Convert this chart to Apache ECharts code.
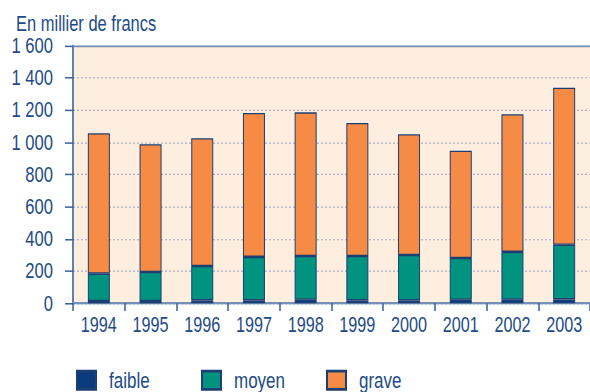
<!DOCTYPE html>
<html>
<head>
<meta charset="utf-8">
<script src="https://cdn.jsdelivr.net/npm/echarts@6/dist/echarts.min.js"></script>
<style>
  html, body { margin: 0; padding: 0; background: #ffffff; width: 590px; height: 392px; overflow: hidden; }
  #frame { position: relative; width: 590px; height: 392px; overflow: hidden; }
  /* The chart is laid out on a 590-wide board and stretched vertically,
     which gives the tall, narrow lettering of the printed figure. */
  #chart {
    position: absolute;
    left: 0;
    top: 0;
    width: 590px;
    height: 312px;
    transform: scaleY(1.306667);
    transform-origin: 0 0;
  }
</style>
</head>
<body>
<div id="frame"><div id="chart"></div></div>
<script>
// Montants annuels, en milliers de francs, par niveau de gravité
const years = ['1994', '1995', '1996', '1997', '1998', '1999', '2000', '2001', '2002', '2003'];
const faible = [14, 14, 18, 18, 22, 18, 18, 22, 22, 24];
const moyen  = [170, 180, 214, 270, 272, 276, 282, 259, 297, 340];
const grave  = [872, 794, 793, 894, 892, 826, 750, 667, 855, 975];
const yTicks = [0, 200, 400, 600, 800, 1000, 1200, 1400, 1600];

const FONT = "'Liberation Sans', Arial, Helvetica, sans-serif";
const INK = '#1d4b88';
const EDGE = '#1c3f73';

const chart = echarts.init(document.getElementById('chart'), null, {
  renderer: 'svg',
  width: 590,
  height: 312
});

function fmtThousands(v) {
  return String(v).replace(/\B(?=(\d{3})+(?!\d))/g, ' ');
}

function barSeries(name, data, color) {
  return {
    name: name,
    type: 'bar',
    stack: 'total',
    data: data,
    barWidth: 22,
    itemStyle: { color: color, borderColor: EDGE, borderWidth: 1 },
    emphasis: { disabled: true }
  };
}

function legendAt(x, name) {
  return {
    left: x,
    top: 282.5,
    padding: 0,
    data: [name],
    itemWidth: 19,
    itemHeight: 14,
    icon: 'rect',
    selectedMode: false,
    textStyle: {
      color: INK,
      fontFamily: FONT,
      fontSize: 17,
      padding: [0, 0, 0, 8]
    }
  };
}

chart.setOption({
  animation: false,
  backgroundColor: '#ffffff',
  title: {
    text: 'En millier de francs',
    left: 11,
    top: 5,
    textStyle: { color: INK, fontFamily: FONT, fontSize: 16.5, fontWeight: 'normal' }
  },
  legend: [
    legendAt(76, 'faible'),
    legendAt(201, 'moyen'),
    legendAt(326, 'grave')
  ],
  grid: {
    left: 73,
    top: 35,
    width: 526,
    height: 197.1,
    show: true,
    backgroundColor: '#fdeee0',
    borderWidth: 0
  },
  xAxis: [
    {
      type: 'category',
      data: years,
      position: 'bottom',
      boundaryGap: true,
      axisLine: { lineStyle: { color: '#7590b6', width: 1.6 } },
      axisTick: { show: true, length: 6, lineStyle: { color: '#34609a', width: 1.5 } },
      axisLabel: { color: INK, fontFamily: FONT, fontSize: 16.2, margin: 8.5, interval: 0 }
    },
    {
      type: 'category',
      data: years,
      position: 'top',
      axisLine: { show: true, lineStyle: { color: '#7590b6', width: 1.2 } },
      axisTick: { show: false },
      axisLabel: { show: false }
    }
  ],
  yAxis: {
    type: 'value',
    min: yTicks[0],
    max: yTicks[yTicks.length - 1],
    interval: 200,
    axisLine: { show: true, lineStyle: { color: '#2d5894', width: 1.5 } },
    axisTick: { show: true, length: 8, lineStyle: { color: '#3d659c', width: 1.2 } },
    axisLabel: {
      color: INK,
      fontFamily: FONT,
      fontSize: 16.6,
      margin: 20,
      formatter: fmtThousands
    },
    splitLine: {
      show: true,
      lineStyle: { color: '#a4adc2', width: 0.9, type: [2, 2] }
    }
  },
  series: [
    barSeries('faible', faible, '#0a3b7c'),
    barSeries('moyen', moyen, '#00937f'),
    barSeries('grave', grave, '#f68b45')
  ]
});
</script>
</body>
</html>
